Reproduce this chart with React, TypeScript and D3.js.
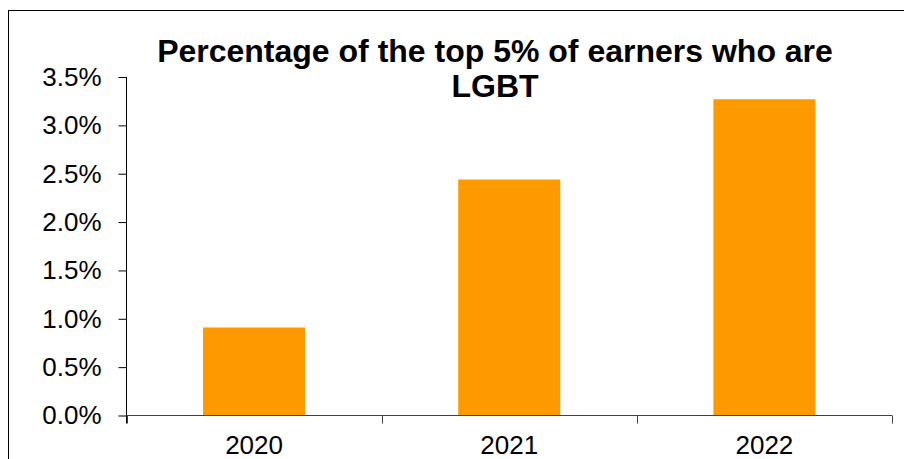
import { useRef, useEffect } from "react";
import * as d3 from "d3";

const years = ["2020", "2021", "2022"];
const shares = [0.0091, 0.0244, 0.0327];
const yTicks = [0, 0.005, 0.01, 0.015, 0.02, 0.025, 0.03, 0.035];

const dims = {
  width: 904,
  height: 459,
  left: 126.5,
  right: 892,
  top: 77,
  bottom: 415.5,
};

const App = () => {
  const ref = useRef<SVGSVGElement>(null);

  useEffect(() => {
    const svg = d3.select(ref.current);
    svg.selectAll("*").remove();

    const x = d3
      .scaleBand()
      .domain(years)
      .range([dims.left, dims.right])
      .paddingInner(0.6)
      .paddingOuter(0.3);

    const y = d3.scaleLinear().domain([0, 0.035]).range([dims.bottom, dims.top]);

    // frame
    svg
      .append("rect")
      .attr("x", 8.5)
      .attr("y", 10.5)
      .attr("width", 910)
      .attr("height", 470)
      .attr("fill", "white")
      .attr("stroke", "black");

    // bars
    svg
      .append("g")
      .selectAll("rect")
      .data(years)
      .enter()
      .append("rect")
      .attr("x", (d) => x(d)!)
      .attr("width", x.bandwidth())
      .attr("y", (_, i) => y(shares[i]))
      .attr("height", (_, i) => dims.bottom - y(shares[i]))
      .attr("fill", "#FF9900");

    // y axis
    const yAxis = d3
      .axisLeft(y)
      .tickValues(yTicks)
      .tickFormat(d3.format(".1%"))
      .tickSize(8)
      .tickPadding(17);
    const yg = svg
      .append("g")
      .attr("transform", `translate(${dims.left},0)`)
      .call(yAxis);
    yg.select(".domain").remove();
    yg.append("line")
      .attr("x1", 0)
      .attr("x2", 0)
      .attr("y1", dims.top)
      .attr("y2", dims.bottom + 8)
      .attr("stroke", "black");
    yg.selectAll("line").attr("stroke", "black");
    yg.selectAll("text")
      .attr("font-family", "Arial, 'Liberation Sans', sans-serif")
      .attr("font-size", 26)
      .attr("fill", "black");

    // x axis
    const step = x.step();
    const bounds = d3.range(years.length + 1).map((i) => dims.left + i * step);
    const xg = svg.append("g");
    xg.append("line")
      .attr("x1", dims.left)
      .attr("x2", dims.right)
      .attr("y1", dims.bottom)
      .attr("y2", dims.bottom)
      .attr("stroke", "#404040");
    xg.selectAll(".tk")
      .data(bounds)
      .enter()
      .append("line")
      .attr("x1", (d) => Math.round(d) + 0.5)
      .attr("x2", (d) => Math.round(d) + 0.5)
      .attr("y1", dims.bottom)
      .attr("y2", dims.bottom + 8)
      .attr("stroke", "#404040");
    xg.selectAll(".lbl")
      .data(years)
      .enter()
      .append("text")
      .attr("x", (d) => x(d)! + x.bandwidth() / 2)
      .attr("y", 454)
      .attr("text-anchor", "middle")
      .attr("font-family", "Arial, 'Liberation Sans', sans-serif")
      .attr("font-size", 26)
      .text((d) => d);

    // title
    const title = svg
      .append("text")
      .attr("text-anchor", "middle")
      .attr("font-family", "Arial, 'Liberation Sans', sans-serif")
      .attr("font-weight", "bold")
      .attr("font-size", 32);
    title.append("tspan").attr("x", 495).attr("y", 62).text("Percentage of the top 5% of earners who are");
    title.append("tspan").attr("x", 495).attr("y", 97).text("LGBT");
  }, []);

  return (
    <div style={{ position: "absolute", left: 0, top: 0 }}>
      <svg ref={ref} width={dims.width} height={dims.height} style={{ display: "block" }} />
    </div>
  );
};

export default App;
